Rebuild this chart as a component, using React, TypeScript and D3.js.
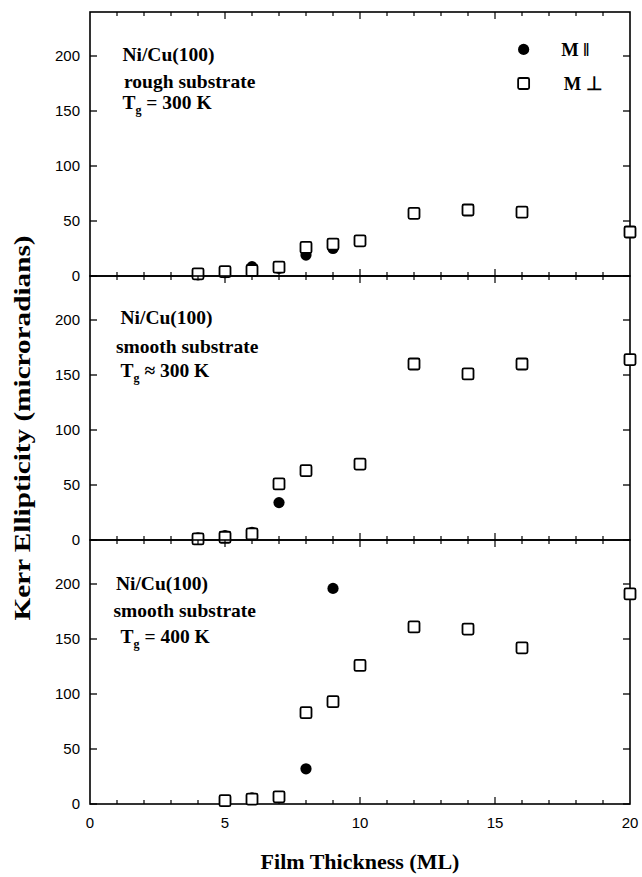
import React from 'react'
import * as d3 from 'd3'

// Kerr ellipticity vs Ni film thickness, three growth conditions

const panelNames = ['rough300', 'smooth300', 'smooth400']

const parThick = [
  [4, 5, 6, 7, 8, 9],
  [4, 5, 6, 7],
  [5, 6, 8, 9],
]
const parKerr = [
  [1, 3, 8.5, 7, 19, 25],
  [2, 4, 7, 34],
  [3, 5.5, 32, 196],
]

const perpThick = [
  [4, 5, 6, 7, 8, 9, 10, 12, 14, 16, 20],
  [4, 5, 6, 7, 8, 10, 12, 14, 16, 20],
  [5, 6, 7, 8, 9, 10, 12, 14, 16, 20],
]
const perpKerr = [
  [2, 4, 5, 8, 26, 29, 32, 57, 60, 58, 40],
  [1, 2.5, 5.5, 51, 63, 69, 160, 151, 160, 164],
  [3, 4.5, 6.5, 83, 93, 126, 161, 159, 142, 191],
]

const labelLines = [
  ['Ni/Cu(100)', 'rough substrate', ' = 300 K'],
  ['Ni/Cu(100)', 'smooth substrate', ' \u2248 300 K'],
  ['Ni/Cu(100)', 'smooth substrate', ' = 400 K'],
]

const xTicks = [0, 5, 10, 15, 20]
const yTicks = [0, 50, 100, 150, 200]

const W = 642
const H = 877
const left = 90
const right = 630
const top = 12
const panelH = 264

const serif = '"Liberation Serif", "Times New Roman", serif'
const sans = '"Liberation Sans", Arial, sans-serif'

export default function App() {
  const x = d3.scaleLinear().domain([0, 20]).range([left, right])
  const minor = d3.range(1, 20)

  const panels = panelNames.map((name, i) => {
    const y0 = top + i * panelH
    const y = d3.scaleLinear().domain([0, 240]).range([y0 + panelH, y0])
    const par = parThick[i].map((t, j) => ({ t, v: parKerr[i][j] }))
    const perp = perpThick[i].map((t, j) => ({ t, v: perpKerr[i][j] }))
    const lx = [[1.2, 1.26, 1.2], [1.13, 0.96, 1.13], [0.96, 0.87, 1.13]][i]
    const ly = [[202, 177, 158], [203, 176, 154], [201, 176, 153]][i]
    return (
      <g key={name}>
        {/* y ticks, left and right, inward */}
        {yTicks.map(v => (
          <g key={v}>
            <line x1={left} x2={left + 7} y1={y(v)} y2={y(v)} stroke="#000" strokeWidth={1.3} />
            <line x1={right - 7} x2={right} y1={y(v)} y2={y(v)} stroke="#000" strokeWidth={1.3} />
            <text x={left - 10} y={y(v)} dy="0.35em" textAnchor="end" fontFamily={sans} fontSize={15}>{v}</text>
          </g>
        ))}
        {/* x ticks on top and bottom edges, inward */}
        {minor.map(t => {
          const len = t % 5 === 0 ? 7 : 4
          return (
            <g key={t}>
              <line x1={x(t)} x2={x(t)} y1={y(0)} y2={y(0) - len} stroke="#000" strokeWidth={1.2} />
              <line x1={x(t)} x2={x(t)} y1={y(240)} y2={y(240) + len} stroke="#000" strokeWidth={1.2} />
            </g>
          )
        })}
        <rect x={left} y={y0} width={right - left} height={panelH} fill="none" stroke="#000" strokeWidth={1.6} />
        {/* annotation */}
        <g fontFamily={serif} fontWeight="bold" fontSize={19.5}>
          <text x={x(lx[0])} y={y(ly[0])} dy="0.35em">{labelLines[i][0]}</text>
          <text x={x(lx[1])} y={y(ly[1])} dy="0.35em">{labelLines[i][1]}</text>
          <text x={x(lx[2])} y={y(ly[2])} dy="0.35em">
            T<tspan fontSize={12} dy="5">g</tspan><tspan dy="-5">{labelLines[i][2]}</tspan>
          </text>
        </g>
        {par.map((d, j) => (
          <circle key={'c' + j} cx={x(d.t)} cy={y(d.v)} r={5.6} fill="#000" />
        ))}
        {perp.map((d, j) => (
          <rect key={'s' + j} x={x(d.t) - 5.5} y={y(d.v) - 5.5} width={11} height={11} rx={1.5}
            fill="#fff" stroke="#000" strokeWidth={1.8} />
        ))}
      </g>
    )
  })

  const yTop = d3.scaleLinear().domain([0, 240]).range([top + panelH, top])

  return (
    <svg width={W} height={H} style={{ position: 'absolute', left: 0, top: 0, background: '#fff' }}>
      <rect width={W} height={H} fill="#fff" />
      {panels}
      {/* legend */}
      <circle cx={x(16.06)} cy={yTop(206)} r={5.6} fill="#000" />
      <rect x={x(16.06) - 5.5} y={yTop(175) - 5.5} width={11} height={11} rx={1.5} fill="#fff" stroke="#000" strokeWidth={1.8} />
      <g fontFamily={serif} fontWeight="bold" fontSize={18.5}>
        <text x={x(17.45)} y={yTop(206)} dy="0.35em">M {'\u2016'}</text>
        <text x={x(17.55)} y={yTop(175)} dy="0.35em">M {'\u22A5'}</text>
      </g>
      {xTicks.map(t => (
        <text key={t} x={x(t)} y={top + 3 * panelH + 19} dy="0.35em" textAnchor="middle" fontFamily={sans} fontSize={15}>{t}</text>
      ))}
      <text x={(left + right) / 2} y={869} textAnchor="middle" fontFamily={serif} fontWeight="bold" fontSize={22}>
        Film Thickness (ML)
      </text>
      <text transform={`translate(30, 428) rotate(-90)`} textAnchor="middle"
        fontFamily={serif} fontWeight="bold" fontSize={24} textLength={385} lengthAdjust="spacingAndGlyphs">
        Kerr Ellipticity (microradians)
      </text>
    </svg>
  )
}
